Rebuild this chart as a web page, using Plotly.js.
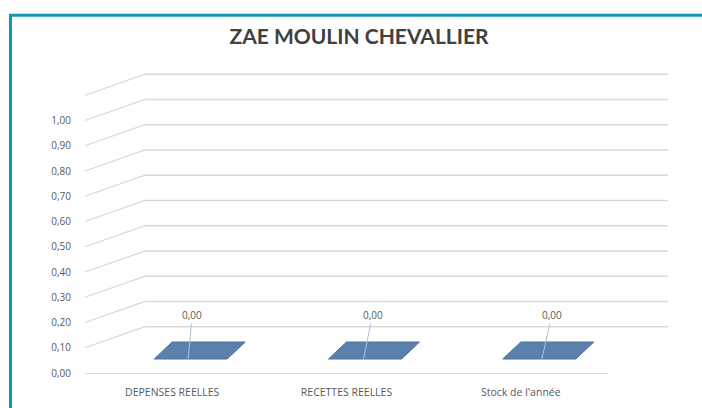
<!DOCTYPE html>
<html>
<head>
<meta charset="utf-8">
<script src="https://cdn.plot.ly/plotly-3.0.1.min.js"></script>
<style>html,body{margin:0;padding:0;background:#fff;}#chart{width:702px;height:408px;}</style>
</head>
<body>
<div id="chart"></div>
<script>
// ---- data ----
var categories = ['DEPENSES REELLES', 'RECETTES REELLES', "Stock de l'année"];
var values = [0, 0, 0];
var yTickVals = [0, 0.1, 0.2, 0.3, 0.4, 0.5, 0.6, 0.7, 0.8, 0.9, 1.0];
var wallGridVals = [0.1, 0.2, 0.3, 0.4, 0.5, 0.6, 0.7, 0.8, 0.9, 1.0, 1.1];
var chartTitle = 'ZAE MOULIN CHEVALLIER';

// ---- layout constants ----
var W = 702, H = 408;
var YMAX = 1.2;
var PX_PER_UNIT = 252.7;           // pixels for one y unit
var B = 35;
var PH = PX_PER_UNIT * YMAX;
var M = {l: 85, r: 94, t: H - B - PH, b: B};
var PW = W - M.l - M.r;
var DEPTH_X = 60, DEPTH_Y = 21;
function pxX(p) { return (p - M.l) / PW; }
function pxY(p) { return (H - M.b - p) / PH; }
function fmt(v) { return v.toFixed(2).replace('.', ','); }

var gridColor = '#d9d9d9';
var textColor = '#595959';
var font = 'Open Sans, Liberation Sans, sans-serif';

var shapes = [];
// side wall diagonals + back wall gridlines
wallGridVals.forEach(function (v) {
  shapes.push({
    type: 'path', xref: 'paper', yref: 'y',
    xsizemode: 'pixel', ysizemode: 'pixel', xanchor: 0, yanchor: v,
    path: 'M 0,0 L ' + DEPTH_X + ',' + DEPTH_Y + ' L ' + (PW + DEPTH_X) + ',' + DEPTH_Y,
    line: {color: gridColor, width: 1.3}
  });
});
// flat 3D bar tops (value 0)
categories.forEach(function (c, i) {
  shapes.push({
    type: 'path', xref: 'x', yref: 'y',
    xsizemode: 'pixel', ysizemode: 'pixel', xanchor: i, yanchor: values[i],
    path: 'M -18,14 L 55,14 L 73,31 L 0,31 Z',
    fillcolor: '#5b80ab', line: {color: '#4f719b', width: 1}, layer: 'above'
  });
});
// teal frame
shapes.push({type: 'line', xref: 'paper', yref: 'paper', x0: pxX(9), x1: pxX(702), y0: pxY(15), y1: pxY(15), line: {color: '#1895b2', width: 3}});
shapes.push({type: 'line', xref: 'paper', yref: 'paper', x0: pxX(10.5), x1: pxX(10.5), y0: pxY(14), y1: pxY(408), line: {color: '#1895b2', width: 3}});

// data labels with leader lines
var labelXShift = [16, 17, 21];
var labelAx = [4, 9, 10];
var annotations = categories.map(function (c, i) {
  return {
    x: i, y: values[i], xref: 'x', yref: 'y',
    xshift: labelXShift[i], yshift: 14,
    text: fmt(values[i]), showarrow: true, arrowhead: 0, arrowwidth: 1,
    arrowcolor: '#a9c3dc', ax: labelAx[i], ay: -44, standoff: 0, startstandoff: 0,
    font: {family: font, size: 10, color: textColor}
  };
});

var traces = [{
  type: 'bar', x: categories, y: values,
  marker: {color: '#5b80ab', line: {width: 0}},
  hoverinfo: 'x+y', showlegend: false
}];

var layout = {
  width: W, height: H,
  margin: M,
  paper_bgcolor: '#ffffff', plot_bgcolor: 'rgba(0,0,0,0)',
  separators: ',.',
  showlegend: false,
  title: {
    text: chartTitle, xref: 'container', yref: 'container',
    x: 359 / W, y: 1 - 37 / H, xanchor: 'center', yanchor: 'middle',
    font: {family: 'Lato, Liberation Sans, sans-serif', weight: 'bold', size: 21, color: '#404040'}
  },
  xaxis: {
    type: 'category', categoryarray: categories, range: [-0.5, 2.5],
    showgrid: false, zeroline: false, showline: true, linecolor: gridColor, linewidth: 1,
    ticks: '', ticklabelstandoff: 9,
    tickfont: {family: font, size: 10.5, color: textColor}
  },
  yaxis: {
    range: [0, YMAX], tickmode: 'array', tickvals: yTickVals,
    tickformat: '.2f', showgrid: false, zeroline: false, showline: false,
    ticks: '', ticklabelstandoff: 13,
    tickfont: {family: font, size: 10, color: textColor}
  },
  shapes: shapes,
  annotations: annotations
};

Plotly.newPlot('chart', traces, layout, {staticPlot: true, displayModeBar: false});
</script>
</body>
</html>
